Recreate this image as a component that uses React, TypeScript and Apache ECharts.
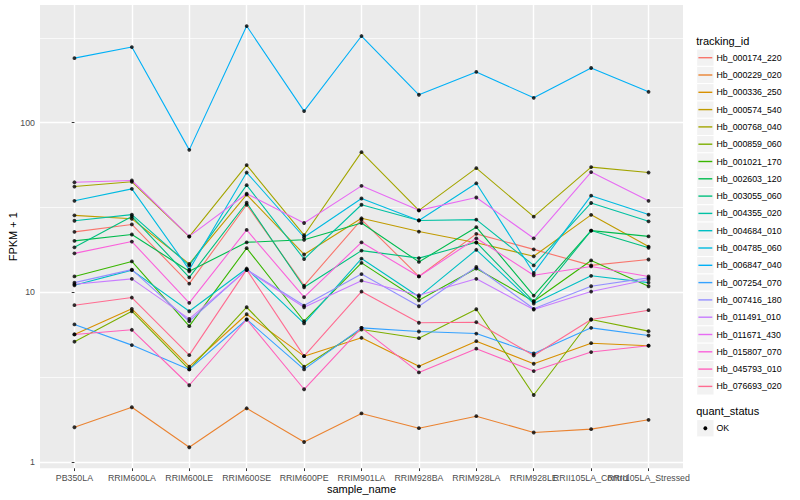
import React, { useEffect, useRef } from "react";
import * as echarts from "echarts";

const categories = [
  "PB350LA",
  "RRIM600LA",
  "RRIM600LE",
  "RRIM600SE",
  "RRIM600PE",
  "RRIM901LA",
  "RRIM928BA",
  "RRIM928LA",
  "RRIM928LE",
  "RRII105LA_Control",
  "RRII105LA_Stressed",
];

const trackingIds = [
  "Hb_000174_220",
  "Hb_000229_020",
  "Hb_000336_250",
  "Hb_000574_540",
  "Hb_000768_040",
  "Hb_000859_060",
  "Hb_001021_170",
  "Hb_002603_120",
  "Hb_003055_060",
  "Hb_004355_020",
  "Hb_004684_010",
  "Hb_004785_060",
  "Hb_006847_040",
  "Hb_007254_070",
  "Hb_007416_180",
  "Hb_011491_010",
  "Hb_011671_430",
  "Hb_015807_070",
  "Hb_045793_010",
  "Hb_076693_020",
];

const palette = [
  "#F8766D", "#EA8331", "#D89000", "#C09B00", "#A3A500",
  "#7CAE00", "#39B600", "#00BB4E", "#00BF7D", "#00C1A3",
  "#00BFC4", "#00BAE0", "#00B0F6", "#35A2FF", "#9590FF",
  "#C77CFF", "#E76BF3", "#FA62DB", "#FF62BC", "#FF6C91",
];

// FPKM + 1 values, one array per tracking_id, in category order
const Hb_000174_220 = [22.7, 25.1, 11.25, 32.8, 10.95, 26.8, 12.4, 22.1, 17.9, 14.4, 15.6];
const Hb_000229_020 = [1.6, 2.1, 1.22, 2.07, 1.31, 1.93, 1.58, 1.86, 1.49, 1.56, 1.77];
const Hb_000336_250 = [5.64, 7.99, 3.64, 7.42, 4.2, 5.39, 3.66, 5.15, 3.79, 5.01, 4.84];
const Hb_000574_540 = [28.4, 27.1, 14.7, 37.6, 16.7, 27.3, 22.8, 19.6, 16.3, 28.6, 18.6];
const Hb_000768_040 = [42.0, 44.8, 21.3, 56.2, 21.7, 67.0, 30.4, 53.9, 27.9, 54.7, 50.8];
const Hb_000859_060 = [5.11, 7.73, 3.51, 8.16, 3.64, 6.03, 5.36, 7.94, 2.48, 6.91, 5.9];
const Hb_001021_170 = [12.4, 15.2, 6.31, 18.2, 6.75, 14.9, 8.97, 13.8, 8.85, 15.4, 10.85];
const Hb_002603_120 = [20.1, 21.9, 13.3, 19.7, 20.4, 25.6, 15.1, 24.2, 9.56, 23.1, 21.35];
const Hb_003055_060 = [18.4, 28.0, 12.25, 33.7, 10.7, 17.6, 15.9, 19.7, 8.82, 23.1, 18.3];
const Hb_004355_020 = [26.4, 28.7, 14.4, 42.8, 15.7, 32.8, 26.5, 26.8, 14.4, 33.6, 26.2];
const Hb_004684_010 = [11.0, 13.5, 7.73, 13.8, 6.55, 15.8, 9.4, 17.8, 8.58, 12.5, 11.4];
const Hb_004785_060 = [34.6, 40.7, 13.6, 50.8, 21.1, 35.7, 26.5, 43.9, 13.0, 37.1, 28.7];
const Hb_006847_040 = [240, 279, 69.1, 371, 117, 324, 146, 199, 140, 210, 152];
const Hb_007254_070 = [6.46, 4.88, 3.51, 6.91, 3.51, 6.17, 5.87, 5.71, 4.36, 6.17, 5.56];
const Hb_007416_180 = [11.4, 13.6, 6.75, 13.6, 8.35, 12.8, 8.27, 14.1, 7.99, 10.85, 12.15];
const Hb_011491_010 = [11.15, 12.0, 6.97, 13.5, 8.16, 11.7, 9.6, 12.0, 7.91, 10.1, 11.9];
const Hb_011671_430 = [44.5, 45.6, 21.35, 38.1, 25.6, 42.4, 30.4, 36.2, 20.8, 51.1, 34.6];
const Hb_015807_070 = [16.96, 19.9, 8.66, 23.3, 9.35, 19.7, 12.4, 20.8, 12.6, 14.2, 12.4];
const Hb_045793_010 = [5.64, 6.01, 2.83, 6.91, 2.68, 6.17, 3.37, 4.65, 3.43, 4.44, 4.84];
const Hb_076693_020 = [8.39, 9.31, 4.26, 13.6, 4.2, 10.1, 6.61, 6.66, 4.24, 6.91, 7.84];

const seriesValues = [
  Hb_000174_220, Hb_000229_020, Hb_000336_250, Hb_000574_540, Hb_000768_040,
  Hb_000859_060, Hb_001021_170, Hb_002603_120, Hb_003055_060, Hb_004355_020,
  Hb_004684_010, Hb_004785_060, Hb_006847_040, Hb_007254_070, Hb_007416_180,
  Hb_011491_010, Hb_011671_430, Hb_015807_070, Hb_045793_010, Hb_076693_020,
];

const yMajorTicks = [1, 10, 100];
const yMinorTicks = [3.1623, 31.623, 316.23];
const quantStatus = ["OK"];

const FONT = '"Liberation Sans", Arial, Helvetica, sans-serif';

export default function App() {
  const ref = useRef<HTMLDivElement>(null);

  useEffect(() => {
    const chart = echarts.init(ref.current!, null, { renderer: "svg" });

    const all = seriesValues.flat();
    const lmin = Math.log10(Math.min(...all));
    const lmax = Math.log10(Math.max(...all));
    const span = lmax - lmin;
    const yMin = Math.pow(10, lmin - 0.05 * span);
    const yMax = Math.pow(10, lmax + 0.05 * span);
    const xTicks = categories.map((_, i) => i);
    const xEven = xTicks.filter((i) => i % 2 === 0);
    const xOdd = xTicks.filter((i) => i % 2 === 1);

    const lineSeries = seriesValues.map((vals, s) => ({
      type: "line",
      name: trackingIds[s],
      data: vals.map((v, i) => [i, v]),
      symbol: "none",
      showSymbol: false,
      silent: true,
      z: 2,
      lineStyle: { color: palette[s], width: 1.1 },
      itemStyle: { color: palette[s] },
    }));

    const pointData: number[][] = [];
    seriesValues.forEach((vals) => vals.forEach((v, i) => pointData.push([i, v])));

    const graphic: any[] = [];
    const lx = 696.7;
    const key = 17.3;
    const top0 = 49.05;
    graphic.push({
      type: "text",
      x: lx - 0.5,
      y: 40.5,
      style: { text: "tracking_id", fontSize: 11, fontFamily: FONT, fill: "#000", verticalAlign: "middle" },
    });
    trackingIds.forEach((id, i) => {
      const y = top0 + i * key;
      graphic.push({
        type: "rect",
        shape: { x: lx, y, width: key, height: key },
        style: { fill: "#F2F2F2", stroke: "#FFFFFF", lineWidth: 1 },
      });
      graphic.push({
        type: "line",
        shape: { x1: lx + 1.7, y1: y + key / 2, x2: lx + key - 1.7, y2: y + key / 2 },
        style: { stroke: palette[i], lineWidth: 1.4 },
      });
      graphic.push({
        type: "text",
        x: 716.5,
        y: y + key / 2,
        style: { text: id, fontSize: 8.8, fontFamily: FONT, fill: "#000", verticalAlign: "middle" },
      });
    });
    graphic.push({
      type: "text",
      x: lx - 0.5,
      y: 411,
      style: { text: "quant_status", fontSize: 11, fontFamily: FONT, fill: "#000", verticalAlign: "middle" },
    });
    quantStatus.forEach((q, i) => {
      const y = 419.6 + i * key;
      graphic.push({
        type: "rect",
        shape: { x: lx, y, width: key, height: key },
        style: { fill: "#F2F2F2", stroke: "#FFFFFF", lineWidth: 1 },
      });
      graphic.push({
        type: "circle",
        shape: { cx: lx + key / 2, cy: y + key / 2, r: 1.9 },
        style: { fill: "#000" },
      });
      graphic.push({
        type: "text",
        x: 716.5,
        y: y + key / 2,
        style: { text: q, fontSize: 8.8, fontFamily: FONT, fill: "#000", verticalAlign: "middle" },
      });
    });
    graphic.push({
      type: "text",
      x: 361.5,
      y: 488.5,
      style: { text: "sample_name", fontSize: 11, fontFamily: FONT, fill: "#000", align: "center", verticalAlign: "middle" },
    });
    graphic.push({
      type: "text",
      x: 12.5,
      y: 236.7,
      rotation: Math.PI / 2,
      style: { text: "FPKM + 1", fontSize: 11, fontFamily: FONT, fill: "#000", align: "center", verticalAlign: "middle" },
    });

    const xLabelStyle = {
      formatter: (v: number) => categories[Math.round(v)],
      margin: 5,
      fontSize: 8.8,
      color: "#4D4D4D",
      fontFamily: FONT,
      showMinLabel: true,
      showMaxLabel: true,
      hideOverlap: false,
    };

    const option: any = {
      animation: false,
      backgroundColor: "#FFFFFF",
      textStyle: { fontFamily: FONT },
      grid: {
        left: 40,
        top: 5,
        right: 117,
        bottom: 31.7,
        show: true,
        backgroundColor: "#EBEBEB",
        borderWidth: 0,
        containLabel: false,
      },
      xAxis: [
        {
          type: "value",
          min: -0.6,
          max: 10.6,
          position: "bottom",
          axisLine: { show: false },
          axisTick: { show: true, customValues: xTicks, length: 2.75, lineStyle: { color: "#333333", width: 1 } },
          axisLabel: { ...xLabelStyle, customValues: xEven },
          splitLine: { show: true, lineStyle: { color: "#FFFFFF", width: 1.4 } },
        },
        {
          type: "value",
          min: -0.6,
          max: 10.6,
          position: "bottom",
          offset: 0,
          axisLine: { show: false },
          axisTick: { show: false, customValues: xOdd },
          axisLabel: { ...xLabelStyle, customValues: xOdd },
          splitLine: { show: false },
        },
      ],
      yAxis: [
        {
          type: "log",
          logBase: 10,
          min: yMin,
          max: yMax,
          axisLine: { show: false },
          axisTick: { show: true, customValues: yMajorTicks, length: 2.75, lineStyle: { color: "#333333", width: 1 } },
          axisLabel: {
            customValues: yMajorTicks,
            formatter: (v: number) => String(Math.round(v)),
            margin: 5,
            fontSize: 8.8,
            color: "#4D4D4D",
            fontFamily: FONT,
            showMinLabel: true,
            showMaxLabel: true,
          },
          splitLine: { show: true, lineStyle: { color: "#FFFFFF", width: 1.4 } },
        },
        {
          type: "log",
          logBase: 10,
          min: yMin,
          max: yMax,
          position: "left",
          axisLine: { show: false },
          axisTick: { show: false, customValues: yMinorTicks },
          axisLabel: { show: false, customValues: yMinorTicks },
          splitLine: { show: true, lineStyle: { color: "#FFFFFF", width: 0.7 } },
        },
      ],
      series: [
        ...lineSeries,
        {
          type: "scatter",
          name: "OK",
          data: pointData,
          symbol: "circle",
          symbolSize: 3.8,
          silent: true,
          z: 3,
          itemStyle: { color: "#000000" },
        },
      ],
      graphic,
    };

    chart.setOption(option);
    return () => chart.dispose();
  }, []);

  return (
    <div
      ref={ref}
      style={{ position: "fixed", left: 0, top: 0, width: 800, height: 500, background: "#FFFFFF" }}
    />
  );
}
